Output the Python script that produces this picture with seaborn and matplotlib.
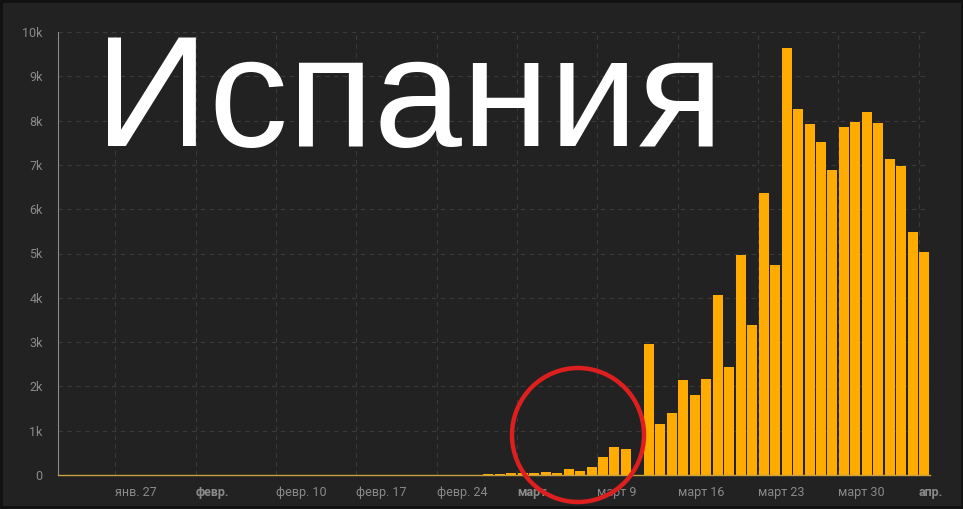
import matplotlib
matplotlib.use("Agg")
import matplotlib.pyplot as plt
from matplotlib.patches import Ellipse, Rectangle
from matplotlib.transforms import ScaledTranslation
import numpy as np
import pandas as pd
import seaborn as sns

# ежедневные новые случаи, Испания, 22 янв. - 6 апр. 2020
dates = pd.date_range("2020-01-22", "2020-04-06", freq="D")
cases = ([0] * 37 +
         [20, 30, 50, 36, 45, 57, 37, 141, 100, 173, 400, 622, 582, 0,
          2955, 1159, 1407, 2144, 1806, 2162, 4053, 2447, 4964, 3394, 6368,
          4749, 9630, 8271, 7933, 7516, 6875, 7846, 7967, 8195, 7947, 7134,
          6969, 5478, 5029])

tick_labels = ["янв. 27", "февр.", "февр. 10", "февр. 17", "февр. 24",
               "март", "март 9", "март 16", "март 23", "март 30", "апр."]
bold_labels = ["февр.", "март", "апр."]
y_ticks = [0, 1000, 2000, 3000, 4000, 5000, 6000, 7000, 8000, 9000, 10000]
y_labels = ["0", "1k", "2k", "3k", "4k", "5k", "6k", "7k", "8k", "9k", "10k"]

df = pd.DataFrame({"day": dates.strftime("%Y-%m-%d"), "cases": cases})

bg = "#222222"
sns.set_theme(style="dark")
plt.rcParams["font.family"] = ["Roboto", "DejaVu Sans"]

fig = plt.figure(figsize=(9.63, 5.09), dpi=100, facecolor=bg)
ax = fig.add_axes([58 / 963, 34 / 509, 872 / 963, 443 / 509])
ax.set_facecolor(bg)

sns.barplot(data=df, x="day", y="cases", color="#ffab00", saturation=1,
            width=0.87, linewidth=0, ax=ax)

ax.set_xlim(-0.5, len(cases) - 0.5)
ax.set_ylim(0, 10000)
ax.set_xlabel("")
ax.set_ylabel("")

xt = np.arange(4.5, len(cases), 7)
ax.set_xticks(xt)
ax.set_xticklabels(tick_labels, ha="left")
shift = ScaledTranslation(4 / 100, 0, fig.dpi_scale_trans)
for t in ax.get_xticklabels():
    t.set_transform(t.get_transform() + shift)
    if t.get_text() in bold_labels:
        t.set_fontweight("bold")
        t.set_color("#c8c8c8")
ax.set_yticks(y_ticks)
ax.set_yticklabels(y_labels)
ax.tick_params(axis="both", colors="#8a8a8a", labelsize=9, length=5,
               width=0.8, pad=6)
ax.tick_params(axis="x", length=4, pad=4)

ax.grid(True, color="#3a3a3a", linestyle=(0, (4, 4)), linewidth=0.8)
ax.set_axisbelow(True)
for s in ["top", "right"]:
    ax.spines[s].set_visible(False)
ax.spines["left"].set_color("#8a8a8a")
ax.spines["left"].set_linewidth(0.8)
ax.spines["bottom"].set_color("#c9a040")
ax.spines["bottom"].set_linewidth(1.0)

# заголовок поверх графика
fig.text(95 / 963, 1 - 146 / 509, "Испания", color="white", fontsize=114,
         family=["Liberation Sans", "DejaVu Sans"], ha="left", va="baseline")

# красный круг
circ = Ellipse((578 / 963, 1 - 435 / 509), 132 / 963, 134 / 509,
               transform=fig.transFigure, fill=False, edgecolor="#dd1f1f",
               linewidth=3.2)
fig.patches.append(circ)

# тёмная рамка по краю картинки
fig.patches.append(Rectangle((0.001, 0.004), 0.998, 0.994,
                             transform=fig.transFigure, fill=False,
                             edgecolor="#111111", linewidth=2))

fig.savefig("out.png", dpi=100, facecolor=bg)
